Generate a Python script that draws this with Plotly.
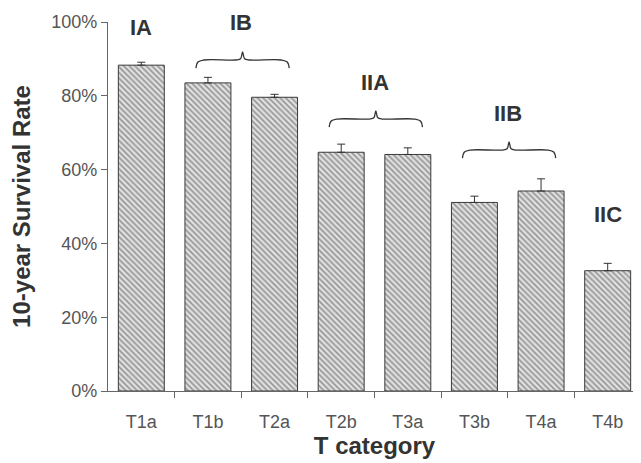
import plotly.graph_objects as go

categories = ["T1a", "T1b", "T2a", "T2b", "T3a", "T3b", "T4a", "T4b"]
survival = [88.3, 83.5, 79.6, 64.7, 64.1, 51.1, 54.2, 32.6]
errors = [0.8, 1.5, 0.8, 2.2, 1.8, 1.7, 3.3, 2.0]
y_ticks = [0, 20, 40, 60, 80, 100]
y_tick_labels = ["0%", "20%", "40%", "60%", "80%", "100%"]

# stage groups: label, first category index, last category index, label y, brace y
group_labels = ["IA", "IB", "IIA", "IIB", "IIC"]
group_start = [0, 1, 3, 5, 7]
group_end = [0, 2, 4, 6, 7]
group_label_y = [98.6, 100.0, 83.7, 75.3, 47.7]
group_brace_y = [None, 87.5, 71.5, 63.1, None]

fig = go.Figure()
fig.add_trace(go.Bar(
    x=list(range(len(categories))), y=survival,
    width=0.69,
    marker=dict(
        color="#dcdcdc",
        line=dict(color="#3a3a3a", width=1),
        pattern=dict(shape="\\", fgcolor="#4a4a4a", bgcolor="#e0e0e0", size=4, solidity=0.4),
    ),
    error_y=dict(type="data", symmetric=False, array=errors,
                 arrayminus=[0] * len(errors), color="#333", thickness=1, width=4),
    showlegend=False,
))

# braces
for lab, s, e, by in zip(group_labels, group_start, group_end, group_brace_y):
    if by is None:
        continue
    x0, x1 = s - 0.18, e + 0.22
    xm = (x0 + x1) / 2
    h = 2.2
    xs = [x0, x0 + 0.03, x0 + 0.12, xm - 0.1, xm - 0.03, xm, xm + 0.03, xm + 0.1, x1 - 0.12, x1 - 0.03, x1]
    ys = [by, by + h * 0.75, by + h, by + h, by + h * 1.15, by + h * 2.0, by + h * 1.15, by + h, by + h, by + h * 0.75, by]
    fig.add_trace(go.Scatter(x=xs, y=ys, mode="lines", line=dict(color="#333", width=1.3, shape="spline"),
                             showlegend=False, hoverinfo="skip", cliponaxis=False))

for lab, s, e, ly in zip(group_labels, group_start, group_end, group_label_y):
    fig.add_annotation(x=(s + e) / 2, y=ly, text="<b>" + lab + "</b>", showarrow=False,
                       font=dict(family="Liberation Sans, Arial", size=22, color="#333"))

fig.update_layout(
    width=633, height=455,
    margin=dict(l=100, r=0, t=14, b=72),
    plot_bgcolor="white", paper_bgcolor="white",
    font=dict(family="Liberation Sans, Arial", color="#555"),
    xaxis=dict(
        tickmode="array", tickvals=list(range(len(categories))), ticktext=categories,
        range=[-0.5, len(categories) - 0.5],
        showline=True, linecolor="#666", linewidth=1.2, showgrid=False, zeroline=False,
        ticks="outside", ticklen=14, tickcolor="rgba(0,0,0,0)",
        tickfont=dict(size=18, color="#555"),
        title=dict(text="<b>T category</b>", font=dict(size=24, color="#333"), standoff=1),
    ),
    yaxis=dict(
        range=[0, 100], tickvals=y_ticks, ticktext=y_tick_labels,
        showline=True, linecolor="#666", linewidth=1.2, showgrid=False, zeroline=False,
        ticks="outside", ticklen=6, tickcolor="#666", tickfont=dict(size=18, color="#555"),
        title=dict(text="<b>10-year Survival Rate</b>", font=dict(size=24, color="#333"), standoff=13),
    ),
)

# tick marks between categories on x axis
fig.update_xaxes(minor=dict(tickvals=[i + 0.5 for i in range(len(categories))], ticks="outside",
                            ticklen=6, tickcolor="#666"))

fig.write_html("out.html")
